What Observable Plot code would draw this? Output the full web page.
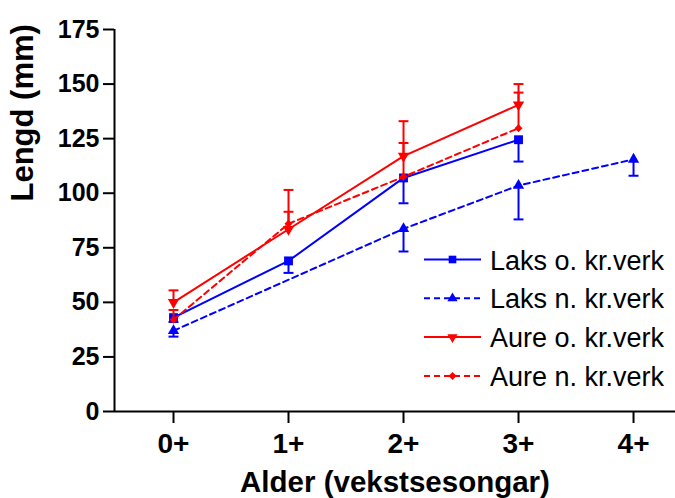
<!DOCTYPE html>
<html><head><meta charset="utf-8">
<script src="https://cdn.jsdelivr.net/npm/d3@7"></script>
<script src="https://cdn.jsdelivr.net/npm/@observablehq/plot@0.6"></script>
<style>
body{margin:0;background:#fff;}
#wrap{position:relative;width:675px;height:498px;overflow:hidden;font-family:"Liberation Sans",Arial,sans-serif;}
#legend{position:absolute;left:0;top:0;pointer-events:none;}
</style></head><body><div id="wrap"></div>
<script>
// ---- data ----
const ages = ["0+", "1+", "2+", "3+", "4+"];
const seriesNames = ["Laks o. kr.verk", "Laks n. kr.verk", "Aure o. kr.verk", "Aure n. kr.verk"];
const laksO   = [43, 69, 107, 124.5, null];
const laksOSd = [2, 5.5, 11.6, 10, null];
const laksN   = [37, null, 83.7, 103.5, 115.5];
const laksNSd = [2.7, null, 10.4, 15.5, 7.5];
const aureO   = [50, 83.5, 117, 140.5, null];
const aureOSd = [5.5, 18, 16, 9.5, null];
const aureN   = [42, 86, 107.5, 129.8, null];
const aureNSd = [4.5, 5.5, 15.5, 16.3, null];
const yTicks = [0, 25, 50, 75, 100, 125, 150, 175];
const xTitle = "Alder (vekstsesongar)";
const yTitle = "Lengd (mm)";

// ---- styles ----
const FONT = "Liberation Sans, Arial, sans-serif";
const series = [
  {name: seriesNames[0], values: laksO, sd: laksOSd, dir: -1, color: "#0000ff", dash: null,  symbol: "square",   r: 5,   lr: 4.3, rotate: 0},
  {name: seriesNames[1], values: laksN, sd: laksNSd, dir: -1, color: "#0000ff", dash: "6,4", symbol: "triangle", r: 4.2, lr: 3.8, rotate: 0},
  {name: seriesNames[2], values: aureO, sd: aureOSd, dir:  1, color: "#ff0000", dash: null,  symbol: "triangle", r: 4.2, lr: 3.8, rotate: 180},
  {name: seriesNames[3], values: aureN, sd: aureNSd, dir:  1, color: "#ff0000", dash: "6,4", symbol: "diamond2", r: 3.6, lr: 3.6, rotate: 0}
];
const capSymbol = {draw(ctx, size) { const w = Math.sqrt(size); ctx.moveTo(-w / 2, 0); ctx.lineTo(w / 2, 0); }};
const xDomain = [-0.513, 4.365];

const marks = [];
for (const s of series) {
  const rows = s.values.map((v, i) => ({i, v, end: v == null ? null : v + s.dir * s.sd[i]})).filter(d => d.v != null);
  marks.push(Plot.line(rows, {x: "i", y: "v", stroke: s.color, strokeWidth: 2, strokeDasharray: s.dash || undefined}));
  marks.push(Plot.ruleX(rows, {x: "i", y1: "v", y2: "end", stroke: s.color, strokeWidth: 2}));
  marks.push(Plot.dot(rows, {x: "i", y: "end", symbol: capSymbol, r: 5.6, fill: "none", stroke: s.color, strokeWidth: 2}));
  marks.push(Plot.dot(rows, {x: "i", y: "v", symbol: s.symbol, r: s.r, fill: s.color, stroke: "none", rotate: s.rotate}));
}

const chart = Plot.plot({
  width: 675, height: 498,
  marginLeft: 114, marginRight: 0, marginTop: 29, marginBottom: 87,
  style: {fontFamily: FONT, color: "black", background: "white"},
  x: {domain: xDomain},
  y: {domain: [0, 175]},
  marks: [
    Plot.ruleY([0], {stroke: "black", strokeWidth: 2}),
    Plot.ruleX([xDomain[0]], {y1: 0, y2: 175, stroke: "black", strokeWidth: 2}),
    Plot.axisY({ticks: yTicks, tickSize: 11, tickPadding: 4, fontSize: 25, fontWeight: "bold", label: null, strokeWidth: 2, fill: "black"}),
    Plot.axisX({ticks: d3.range(ages.length), tickFormat: i => ages[i], tickSize: 12, tickPadding: 10, fontSize: 28, fontWeight: "bold", label: null, strokeWidth: 2, fill: "black"}),
    Plot.text([xTitle], {text: d => d, frameAnchor: "bottom", lineAnchor: "top", dy: 60, fontSize: 29.5, fontWeight: "bold", fill: "black"}),
    Plot.text([yTitle], {text: d => d, frameAnchor: "left", rotate: -90, dx: -91, dy: -19, fontSize: 31, fontWeight: "bold", fill: "black"}),
    ...marks
  ]
});
const wrap = document.getElementById("wrap");
wrap.appendChild(chart);

// ---- legend (overlay) ----
const symbolMap = {square: d3.symbolSquare, triangle: d3.symbolTriangle, diamond2: d3.symbolDiamond2};
const leg = d3.select(wrap).append("svg").attr("id", "legend").attr("width", 675).attr("height", 498);
const legX0 = 424, legX1 = 481, legTextX = 490, legY0 = 259.5, legStep = 38.8;
series.forEach((s, k) => {
  const g = leg.append("g").attr("transform", `translate(0,${legY0 + k * legStep})`);
  g.append("line").attr("x1", legX0).attr("x2", legX1).attr("y1", 0).attr("y2", 0)
    .attr("stroke", s.color).attr("stroke-width", 2).attr("stroke-dasharray", s.dash);
  g.append("path").attr("d", d3.symbol(symbolMap[s.symbol], Math.PI * s.lr ** 2)())
    .attr("transform", `translate(${(legX0 + legX1) / 2},0) rotate(${s.rotate})`).attr("fill", s.color);
  g.append("text").attr("x", legTextX).attr("y", 10).attr("font-size", 27).attr("font-family", FONT)
    .attr("fill", "black").text(s.name);
});
</script></body></html>
